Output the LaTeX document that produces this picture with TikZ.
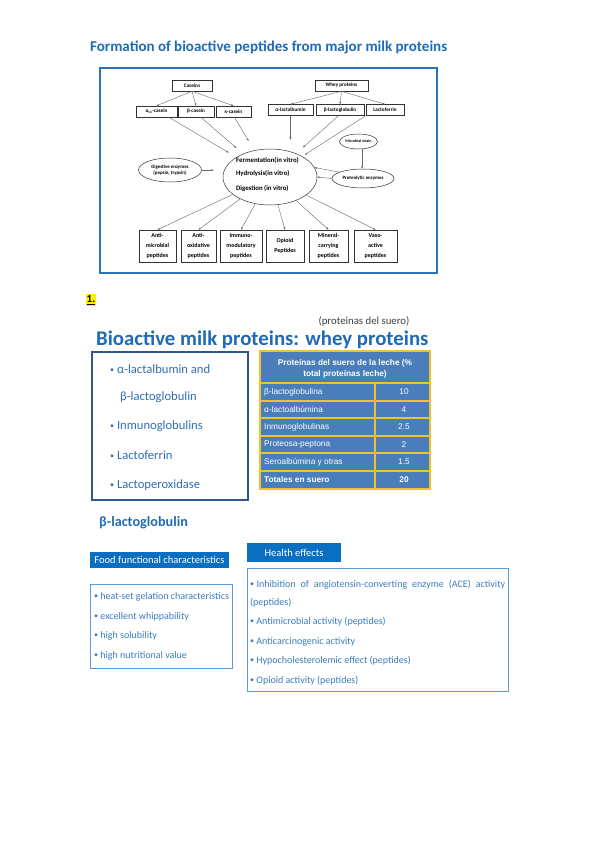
\documentclass[tikz,border=0pt]{standalone}
\usepackage{fontspec}
\setmainfont{Carlito}
\newfontfamily\tablefont{Liberation Sans}
\usetikzlibrary{arrows.meta,shapes.geometric}
\definecolor{TitleBlue}{HTML}{1F6BB5}
\definecolor{FrameBlue}{HTML}{2E75B6}
\definecolor{BoxBlue}{HTML}{2F5597}
\definecolor{ItemBlue}{HTML}{2E6FB7}
\definecolor{TableBlue}{HTML}{4A7EBB}
\definecolor{TableGold}{HTML}{F2C12E}
\definecolor{HeadBlue}{HTML}{0B6FC1}
\definecolor{ListBlue}{HTML}{5B9BD5}
\definecolor{ListText}{HTML}{3B7CC0}
\definecolor{InkGray}{HTML}{404040}
\newcommand{\setfs}[2]{\fontsize{#1}{#2}\selectfont}
\newcommand{\blt}{{\setfs{8}{8}\raisebox{0.12em}{•}}}
\tikzset{
  pbox/.style={draw=black!80,line width=0.5pt,fill=white,minimum height=11pt,inner sep=1pt,font=\setfs{5.2}{7}\bfseries},
  obox/.style={draw=black!80,line width=0.6pt,fill=white,minimum height=32pt,inner sep=0.5pt,align=center,font=\setfs{6}{10.2}\bfseries},
  oval/.style={ellipse,draw=black!80,line width=0.5pt,inner sep=0pt,align=center,font=\setfs{4.9}{6.4}\bfseries},
  flow/.style={-{Stealth[length=2.6pt,width=2pt]},draw=black!60,line width=0.4pt},
  coreline/.style={anchor=west,inner sep=0pt,font=\setfs{6.8}{7}\bfseries},
  bigitem/.style={anchor=west,inner sep=0pt,text=ItemBlue,font=\setfs{12.6}{14}},
  smallitem/.style={anchor=west,inner sep=0pt,text=ListText,font=\setfs{10}{11}},
  headbar/.style={fill=HeadBlue,text=white,inner sep=0pt,font=\setfs{10.5}{12}},
  cell/.style={text=white,inner sep=0pt,font=\tablefont\setfs{8.3}{10.5}},
}
\begin{document}
\begin{tikzpicture}[x=1pt,y=-1pt]
\fill[white] (0,0) rectangle (599,848);
% part one: peptide diagram
\node[anchor=west,inner sep=0pt,text=TitleBlue,font=\setfs{15}{16}\bfseries] (maintitle) at (90,47) {Formation of bioactive peptides from major milk proteins};
\draw[FrameBlue,line width=2.5pt] (100,68) rectangle (437,273);
\node[pbox,minimum width=40pt] (caseins) at (192,85.5) {Caseins};
\node[pbox,minimum width=41pt] (cas1) at (156.5,111.5) {α\textsubscript{s1}-casein};
\node[pbox,minimum width=36pt] (cas2) at (196,111.5) {β-casein};
\node[pbox,minimum width=35pt] (cas3) at (233.5,111.5) {κ-casein};
\node[pbox,minimum width=53pt] (whey) at (341.5,85.5) {Whey proteins};
\node[pbox,minimum width=45pt] (wp1) at (290.5,110) {α-lactalbumin};
\node[pbox,minimum width=48pt] (wp2) at (340,110) {β-lactoglobulin};
\node[pbox,minimum width=38pt] (wp3) at (385,110) {Lactoferrin};
\node[oval,minimum width=94pt,minimum height=56pt] (core) at (270,177) {};
\node[coreline] (ferm) at (236,160) {Fermentation(in vitro)};
\node[coreline] (hydro) at (236,174) {Hydrolysis(in vitro)};
\node[coreline] (diges) at (236,189) {Digestion (in vitro)};
\node[oval,minimum width=63pt,minimum height=24pt] (dig) at (170,170) {Digestive enzymes\\(pepsin, trypsin)};
\node[oval,minimum width=38pt,minimum height=15pt,font=\setfs{4}{5}\bfseries] (micro) at (358.5,141.5) {Microbial strain};
\node[oval,minimum width=62pt,minimum height=19pt] (prot) at (363,178.5) {Proteolytic enzymes};
\foreach \x/\w/\name/\txt in {157.5/37/amp/{Anti-\\microbial\\peptides},198.5/35/aox/{Anti-\\oxidative\\peptides},241/42/imm/{Immuno-\\modulatory\\peptides},285/38/opi/{Opioid\\Peptides},328.5/39/mcp/{Mineral-\\carrying\\peptides},375.5/43/vas/{Vaso-\\active\\peptides}}{
  \node[obox,minimum width=\w pt] (\name) at (\x,246) {\txt};
  \draw[flow] (core) -- (\name.north);
}
\foreach \name in {cas1,cas2,cas3} \draw[flow] (caseins.south) -- (\name.north);
\foreach \name in {wp1,wp2,wp3} \draw[flow] (whey.south) -- (\name.north);
\draw[flow,shorten >=9pt] (cas1.-25) -- (core);
\draw[flow,shorten >=9pt] (cas2.-50) -- (core);
\draw[flow,shorten >=11pt] (cas3.-80) -- (core);
\draw[flow,shorten >=9pt] (wp1.south) -- (wp1.south |- core.north);
\draw[flow,shorten >=9pt] (wp2.-105) -- (core);
\draw[flow,shorten >=3pt] (wp3.south west) -- (core);
\draw[flow] (micro.-65) -- (micro.-65 |- prot.north);
\draw[flow,shorten >=9pt] (dig.east) -- (core.west |- dig.east);
\draw[flow] (prot.165) -- (core.12);
\draw[flow] (prot.west) -- (core.east);
% part two: whey proteins
\node[fill=yellow,inner sep=1.2pt,font=\setfs{11}{12}\bfseries] (secnum) at (91,300) {\underline{1.}};
\node[inner sep=0pt,text=InkGray,font=\setfs{10.8}{12}] (suero) at (364,321) {(proteinas del suero)};
\node[anchor=west,inner sep=0pt,text=TitleBlue,font=\setfs{20.8}{22}\bfseries] (wheytitle) at (96,340) {Bioactive milk proteins: whey proteins};
\draw[BoxBlue,line width=1.3pt] (92,352) rectangle (248,500);
\node[bigitem] (wi1) at (110,369) {\blt\ α-lactalbumin and};
\node[bigitem] (wi1b) at (120,397) {β-lactoglobulin};
\node[bigitem] (wi2) at (110,426) {\blt\ Inmunoglobulins};
\node[bigitem] (wi3) at (110,455) {\blt\ Lactoferrin};
\node[bigitem] (wi4) at (110,485) {\blt\ Lactoperoxidase};
% table
\fill[TableBlue] (260,351) rectangle (430,489);
\foreach \y in {383,401,418,436,453,471} \draw[TableGold,line width=1.2pt] (260,\y) -- (430,\y);
\draw[TableGold,line width=1.2pt] (375,383) -- (375,489);
\draw[TableGold,line width=1.4pt] (260,351) rectangle (430,489);
\draw[TableGold,line width=2.6pt] (259,351) -- (431,351);
\node[cell,align=center,font=\tablefont\setfs{8.3}{11.5}\bfseries] (thead) at (345,369) {Proteínas del suero de la leche (\%\\total proteínas leche)};
\foreach \y/\prot/\val [count=\i] in {392/β-lactoglobulina/10,409.5/α-lactoalbúmina/4,427/Inmunoglobulinas/2.5,444.5/Proteosa-peptona/2,462/Seroalbúmina y otras/1.5}{
  \node[cell,anchor=west] (row\i) at (264,\y) {\prot};
  \node[cell] (val\i) at (404,\y) {\val};
}
\node[cell,anchor=west,font=\tablefont\setfs{8.3}{10.5}\bfseries] (rowtot) at (264,480) {Totales en suero};
\node[cell,font=\tablefont\setfs{8.3}{10.5}\bfseries] (valtot) at (404,480) {20};
% part three: beta-lactoglobulin
\node[anchor=west,inner sep=0pt,text=TitleBlue,font=\setfs{14.2}{15}\bfseries] (blgtitle) at (99,523) {β-lactoglobulin};
\node[headbar,minimum width=139pt,minimum height=16pt] (foodhead) at (159.5,560) {Food functional characteristics};
\draw[ListBlue,line width=0.8pt] (90,584) rectangle (232,668);
\foreach \y/\txt [count=\i] in {597/heat-set gelation characteristics,617/excellent whippability,636/high solubility,656/high nutritional value}
  \node[smallitem] (food\i) at (94,\y) {\blt\ \txt};
\node[headbar,minimum width=94pt,minimum height=19pt] (healthhead) at (294,552.5) {Health effects};
\draw[ListBlue,line width=0.8pt] (247,568) rectangle (508,691);
\node[smallitem,anchor=north west,text width=255pt,align=justify,font=\setfs{10}{18}] (health1) at (250,579.5) {\blt\hspace{2.5pt}Inhibition of angiotensin-converting enzyme (ACE) activity (peptides)};
\foreach \y/\txt [count=\i from 2] in {622/Antimicrobial activity (peptides),642/Anticarcinogenic activity,661/Hypocholesterolemic effect (peptides),681/Opioid activity (peptides)}
  \node[smallitem] (health\i) at (250,\y) {\blt\ \txt};
\end{tikzpicture}
\end{document}
